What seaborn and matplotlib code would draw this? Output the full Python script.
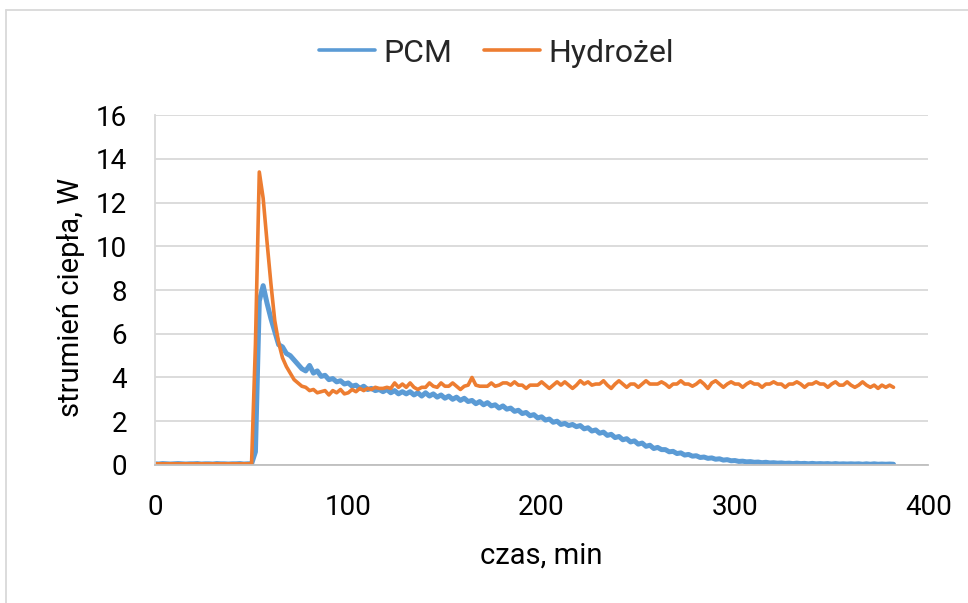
import numpy as np
import pandas as pd
import seaborn as sns
import matplotlib.pyplot as plt
from matplotlib.lines import Line2D

# time samples, min (every 2 min)
czas = np.arange(0, 384, 2)

# heat flux, W - PCM (10 samples per row)
pcm = [
    0.05, 0.04, 0.06, 0.05, 0.04, 0.05, 0.06, 0.05, 0.04, 0.05,   # 0-18
    0.05, 0.06, 0.04, 0.05, 0.05, 0.04, 0.06, 0.05, 0.05, 0.04,   # 20-38
    0.05, 0.05, 0.06, 0.04, 0.05, 0.05, 0.6, 7.5, 8.2, 7.4,       # 40-58
    6.7, 6.1, 5.5, 5.4, 5.1, 5.0, 4.8, 4.6, 4.4, 4.3,             # 60-78
    4.55, 4.2, 4.3, 4.05, 4.1, 3.9, 3.95, 3.8, 3.85, 3.7,         # 80-98
    3.75, 3.6, 3.65, 3.5, 3.6, 3.45, 3.5, 3.4, 3.45, 3.35,        # 100-118
    3.45, 3.3, 3.4, 3.25, 3.35, 3.25, 3.35, 3.2, 3.3, 3.15,       # 120-138
    3.3, 3.15, 3.25, 3.1, 3.2, 3.05, 3.15, 3.0, 3.1, 2.95,        # 140-158
    3.05, 2.9, 2.95, 2.8, 2.9, 2.75, 2.85, 2.7, 2.75, 2.6,        # 160-178
    2.7, 2.55, 2.6, 2.45, 2.5, 2.35, 2.4, 2.25, 2.3, 2.15,        # 180-198
    2.2, 2.05, 2.1, 1.95, 2.0, 1.85, 1.9, 1.8, 1.85, 1.75,        # 200-218
    1.8, 1.65, 1.7, 1.55, 1.6, 1.45, 1.5, 1.35, 1.4, 1.25,        # 220-238
    1.3, 1.15, 1.2, 1.05, 1.1, 0.95, 1.0, 0.85, 0.9, 0.75,        # 240-258
    0.8, 0.7, 0.7, 0.6, 0.62, 0.52, 0.55, 0.45, 0.48, 0.4,        # 260-278
    0.42, 0.34, 0.36, 0.3, 0.32, 0.26, 0.28, 0.22, 0.24, 0.19,    # 280-298
    0.2, 0.16, 0.17, 0.14, 0.15, 0.12, 0.13, 0.1, 0.12, 0.09,     # 300-318
    0.1, 0.08, 0.09, 0.07, 0.08, 0.06, 0.08, 0.06, 0.07, 0.05,    # 320-338
    0.07, 0.05, 0.06, 0.05, 0.06, 0.04, 0.06, 0.04, 0.05, 0.04,   # 340-358
    0.05, 0.04, 0.05, 0.03, 0.05, 0.03, 0.05, 0.03, 0.04, 0.03,   # 360-378
    0.04, 0.03,                                                   # 380-382
]

# heat flux, W - hydrogel
hydrozel = [
    0.05, 0.05, 0.05, 0.05, 0.05, 0.05, 0.05, 0.05, 0.05, 0.05,   # 0-18
    0.05, 0.05, 0.05, 0.05, 0.05, 0.05, 0.05, 0.05, 0.05, 0.05,   # 20-38
    0.05, 0.05, 0.05, 0.05, 0.05, 0.05, 5.5, 13.4, 12.2, 10.2,    # 40-58
    8.3, 6.6, 5.6, 4.9, 4.5, 4.2, 3.9, 3.75, 3.6, 3.55,           # 60-78
    3.4, 3.45, 3.3, 3.35, 3.4, 3.2, 3.4, 3.3, 3.45, 3.25,         # 80-98
    3.3, 3.45, 3.35, 3.5, 3.4, 3.5, 3.45, 3.55, 3.5, 3.5,         # 100-118
    3.55, 3.5, 3.75, 3.55, 3.7, 3.55, 3.75, 3.55, 3.45, 3.55,     # 120-138
    3.55, 3.75, 3.6, 3.55, 3.75, 3.6, 3.6, 3.75, 3.6, 3.45,       # 140-158
    3.6, 3.65, 4.0, 3.65, 3.6, 3.6, 3.6, 3.75, 3.6, 3.65,         # 160-178
    3.75, 3.75, 3.65, 3.8, 3.65, 3.65, 3.5, 3.65, 3.65, 3.65,     # 180-198
    3.8, 3.65, 3.5, 3.65, 3.8, 3.65, 3.8, 3.65, 3.5, 3.65,        # 200-218
    3.85, 3.7, 3.8, 3.65, 3.7, 3.7, 3.85, 3.65, 3.5, 3.7,         # 220-238
    3.85, 3.7, 3.55, 3.7, 3.7, 3.55, 3.7, 3.85, 3.7, 3.7,         # 240-258
    3.7, 3.8, 3.7, 3.55, 3.7, 3.7, 3.85, 3.7, 3.7, 3.6,           # 260-278
    3.7, 3.85, 3.7, 3.5, 3.75, 3.85, 3.7, 3.55, 3.7, 3.8,         # 280-298
    3.7, 3.7, 3.55, 3.7, 3.8, 3.7, 3.7, 3.55, 3.7, 3.7,           # 300-318
    3.8, 3.7, 3.7, 3.55, 3.7, 3.7, 3.8, 3.7, 3.55, 3.7,           # 320-338
    3.7, 3.8, 3.7, 3.7, 3.55, 3.7, 3.8, 3.65, 3.65, 3.8,          # 340-358
    3.65, 3.55, 3.65, 3.8, 3.65, 3.55, 3.65, 3.5, 3.65, 3.55,     # 360-378
    3.65, 3.55,                                                   # 380-382
]

x_ticks = [0, 100, 200, 300, 400]
y_ticks = [0, 2, 4, 6, 8, 10, 12, 14, 16]

df_pcm = pd.DataFrame({'czas': czas, 'q': pcm})
df_hyd = pd.DataFrame({'czas': czas, 'q': hydrozel})

sns.set_theme(style='white')
plt.rcParams['font.family'] = ['Roboto', 'DejaVu Sans']

fig = plt.figure(figsize=(9.68, 6.03), dpi=100)
ax = fig.add_axes([0.160, 0.229, 0.799, 0.580])

sns.lineplot(data=df_pcm, x='czas', y='q', ax=ax, color='#5B9BD5',
             linewidth=3.6, estimator=None, sort=False, label='PCM')
sns.lineplot(data=df_hyd, x='czas', y='q', ax=ax, color='#ED7D31',
             linewidth=2.6, estimator=None, sort=False, label='Hydrożel')

ax.set_xlim(0, 400)
ax.set_ylim(0, 16)
ax.set_xticks(x_ticks)
ax.set_yticks(y_ticks)
ax.yaxis.grid(True, color='#D9D9D9', linewidth=1.3)
ax.set_axisbelow(True)
ax.tick_params(axis='both', length=0, labelsize=20, labelcolor='black')
ax.tick_params(axis='x', pad=21)
ax.tick_params(axis='y', pad=20)

for s in ['top', 'right']:
    ax.spines[s].set_visible(False)
ax.spines['left'].set_color('#D9D9D9')
ax.spines['left'].set_linewidth(1.3)
ax.spines['bottom'].set_color('#BFBFBF')
ax.spines['bottom'].set_linewidth(1.3)

ax.set_xlabel('czas, min', fontsize=21, color='black')
ax.set_ylabel('strumień ciepła, W', fontsize=21, color='black')
ax.xaxis.set_label_coords(0.5, -0.22)
ax.yaxis.set_label_coords(-0.09, 0.48)

leg = ax.legend(loc='center', bbox_to_anchor=(0.513, 0.912), bbox_transform=fig.transFigure,
                ncol=2, frameon=False, fontsize=23, handlelength=1.75,
                handletextpad=0.25, columnspacing=1.0)
for h in leg.get_lines():
    h.set_linewidth(2.6)

# chart frame (left and top edges visible in the crop)
fig.add_artist(Line2D([0.0062, 0.0062], [0, 0.983], color='#D9D9D9', linewidth=1.3))
fig.add_artist(Line2D([0.0062, 1.0], [0.983, 0.983], color='#D9D9D9', linewidth=1.3))

fig.savefig('out.png', dpi=100)
